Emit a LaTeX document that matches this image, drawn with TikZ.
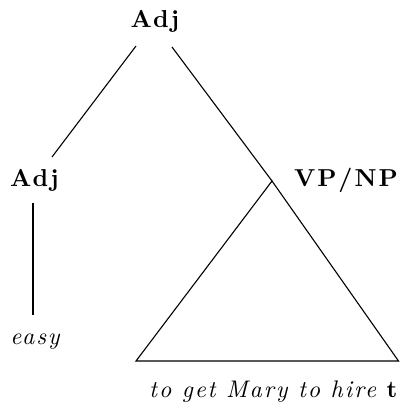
\documentclass[tikz,border=0pt]{standalone}
\usepackage{fontspec}
\setmainfont{lmroman10-regular.otf}[
  BoldFont=lmroman10-bold.otf,
  ItalicFont=lmroman10-italic.otf,
  BoldItalicFont=lmroman10-bolditalic.otf,
  LetterSpace=8]
\begin{document}
\begin{tikzpicture}[x=1pt,y=-1pt,
  cat/.style={font=\fontsize{24.5pt}{30pt}\selectfont\bfseries, inner sep=0pt, anchor=base},
  word/.style={font=\fontsize{24pt}{30pt}\selectfont\itshape, inner sep=0pt, anchor=base},
  branch/.style={line width=1.1pt}]
\useasboundingbox (0,0) rectangle (399,403);
\node[cat] (topadj) at (155,28) {Adj};
\node[cat] (adj) at (34.5,186) {Adj};
\node[cat, anchor=base east] (vpnp) at (398,186) {VP/NP};
\node[word] (easy) at (35,344) {easy};
\node[word, anchor=base east] (yield) at (397.5,397) {to get Mary to hire \textbf{\upshape t}};
\coordinate (tl) at (136,46);
\coordinate (tr) at (172,47);
\coordinate (al) at (52,157);
\coordinate (at) at (33,203);
\coordinate (ab) at (33,315);
\coordinate (apex) at (272,181);
\coordinate (bl) at (136,361);
\coordinate (br) at (398.5,361);
\draw[branch] (tl) -- (al);
\draw[branch] (tr) -- (apex);
\draw[branch] (apex) -- (bl) -- (br) -- cycle;
\draw[branch] (at) -- (ab);
\end{tikzpicture}
\end{document}
